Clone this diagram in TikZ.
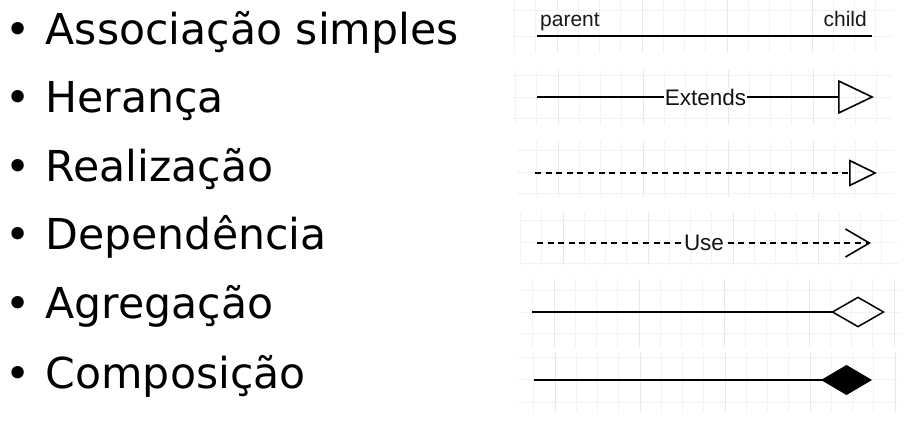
\documentclass[tikz,border=0pt]{standalone}
\usepackage{fontspec}
\setmainfont{DejaVu Sans}
\newfontfamily\lblfont{Liberation Sans}
\usetikzlibrary{arrows.meta}
\tikzset{
  gridminor/.style={draw=gray!10,line width=0.9pt},
  gridmajor/.style={draw=gray!18,line width=1pt},
  itemtext/.style={anchor=base west,inner sep=0pt,font=\fontsize{42.6}{50}\selectfont},
  bulletmark/.style={anchor=base,inner sep=0pt,font=\fontsize{42.6}{50}\selectfont},
  endlbl/.style={inner sep=0pt,font=\lblfont\fontsize{21}{24}\selectfont,text=gray!20!black},
  onlbl/.style={inner xsep=1pt,inner ysep=1pt,fill=white,font=\lblfont\fontsize{22.5}{24}\selectfont,text=gray!15!black},
  conn/.style={draw=black,line width=1.7pt},
  thickconn/.style={draw=black,line width=2.1pt},
  dashconn/.style={draw=black,line width=1.6pt,dash pattern=on 6pt off 4.6pt}
}
\newcommand\umlgrid[6]{%
  \begin{scope}
    \clip (#1,#2) rectangle (#3,#4);
    \foreach \k in {-4,...,16} \draw[gridminor] ({#5+21.25*\k},#2) -- ({#5+21.25*\k},#4);
    \foreach \k in {-1,...,4} \draw[gridmajor] ({#5+85*\k},#2) -- ({#5+85*\k},#4);
    \foreach \h in {#6} \draw[gridminor] (#1,\h) -- (#3,\h);
  \end{scope}}
\begin{document}
\begin{tikzpicture}[x=1pt,y=-1pt]
\fill[white] (0,0) rectangle (904,427);
\useasboundingbox (0,0) rectangle (904,427);

% grid panels
\umlgrid{513}{0}{893}{53}{557}{10,36}
\umlgrid{513}{70}{892}{125}{558}{75,97,118}
\umlgrid{517}{141}{894}{197}{558}{150,172,193}
\umlgrid{520}{212}{899}{265}{563}{220,242,263}
\umlgrid{522}{280}{901}{347}{554}{290,312,333}
\umlgrid{518}{352}{897}{412}{555}{357,379,402}

% list
\node[bulletmark] (b1) at (18.5,45) {•};
\node[itemtext] (t1) at (45.5,45) {Associação simples};
\node[bulletmark] (b2) at (18.5,113) {•};
\node[itemtext] (t2) at (45.5,113) {Herança};
\node[bulletmark] (b3) at (18.5,182) {•};
\node[itemtext] (t3) at (45.5,182) {Realização};
\node[bulletmark] (b4) at (18.5,250) {•};
\node[itemtext] (t4) at (45.5,250) {Dependência};
\node[bulletmark] (b5) at (18.5,319) {•};
\node[itemtext] (t5) at (45.5,319) {Agregação};
\node[bulletmark] (b6) at (18.5,388) {•};
\node[itemtext] (t6) at (45.5,388) {Composição};

% row 1: association
\coordinate (p1) at (537,36);
\coordinate (c1) at (872,36);
\draw[conn] (p1) -- (c1);
\node[endlbl,anchor=base west] (parent) at (540,27) {parent};
\node[endlbl,anchor=base east] (child) at (867,27) {child};

% row 2: inheritance
\coordinate (p2) at (537,97);
\coordinate (c2) at (874,97);
\draw[conn,-{Triangle[open,length=36pt,width=34pt,line width=1.6pt]}] (p2) -- node[onlbl] (ext) {Extends} (c2);

% row 3: realization
\coordinate (p3) at (535,173);
\coordinate (c3) at (877,173);
\draw[dashconn,-{Triangle[open,length=28pt,width=27pt,line width=1.6pt]}] (p3) -- (c3);

% row 4: dependency
\coordinate (p4) at (537,243);
\coordinate (c4) at (871,243);
\draw[dashconn,-{Straight Barb[length=24pt,width=28pt,line width=1.6pt]}] (p4) -- node[onlbl] (use) {Use} (c4);

% row 5: aggregation
\coordinate (p5) at (532,312);
\coordinate (c5) at (885,312);
\draw[thickconn,-{Diamond[open,length=54pt,width=31pt,line width=1.5pt]}] (p5) -- (c5);

% row 6: composition
\coordinate (p6) at (534,380);
\coordinate (c6) at (872,380);
\draw[thickconn,-{Diamond[length=51pt,width=30pt,line width=1.5pt]}] (p6) -- (c6);
\end{tikzpicture}
\end{document}
